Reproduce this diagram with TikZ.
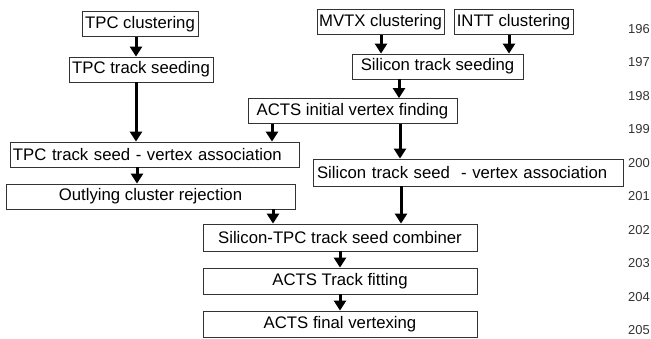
\documentclass[tikz,border=0pt]{standalone}
\usepackage{fontspec}
\setmainfont{Liberation Sans}
\usetikzlibrary{arrows.meta}
\begin{document}
\begin{tikzpicture}[x=1bp, y=-1bp,
        box/.style={draw=black!80, line width=0.8bp, inner sep=0pt, minimum height=25bp, font=\fontsize{16.8}{19}\selectfont},
        leftbox/.style={box, inner xsep=3bp, align=left},
        flow/.style={-{Triangle[width=12bp,length=10bp]}, line width=3bp},
        lineno/.style={anchor=east, inner sep=0pt, text=black!80, font=\fontsize{13}{15}\selectfont}]
        \useasboundingbox (0,0) rectangle (651,338);
        % Tracking chain
        \node[box, minimum width=116bp] (tpcclus) at (140,24) {TPC clustering};
        \node[box, minimum width=144bp] (tpcseed) at (141,69.5) {TPC track seeding};
        \node[box, minimum width=127bp] (mvtx) at (380.5,22) {MVTX clustering};
        \node[box, minimum width=119bp] (intt) at (513.5,22) {INTT clustering};
        \node[box, minimum width=171bp] (siseed) at (437.5,66.5) {Silicon track seeding};
        \node[box, minimum width=209bp] (actsvtx) at (352.5,111) {ACTS initial vertex finding};
        \node[leftbox, text width=283bp] (tpcassoc) at (154.5,154.5) {TPC track seed - vertex association};
        \node[leftbox, inner xsep=4bp, text width=302bp, minimum height=27bp] (siassoc) at (468,172.5) {Silicon track seed\ \ - vertex association};
        \node[box, minimum width=289bp] (outlying) at (150.5,196.5) {Outlying cluster rejection};
        \node[box, minimum width=274bp, minimum height=27bp] (combiner) at (340,237.5) {Silicon-TPC track seed combiner};
        \node[box, minimum width=274bp, minimum height=26bp] (fitting) at (340,281) {ACTS Track fitting};
        \node[box, minimum width=274bp, minimum height=26bp] (final) at (340,324) {ACTS final vertexing};
        \foreach \a/\b/\x in {
            tpcclus/tpcseed/136,
            tpcseed/tpcassoc/136,
            mvtx/siseed/381,
            intt/siseed/509,
            siseed/actsvtx/399,
            actsvtx/tpcassoc/272,
            actsvtx/siassoc/400,
            tpcassoc/outlying/137,
            siassoc/combiner/401,
            outlying/combiner/273,
            combiner/fitting/340,
            fitting/final/340
        } {
            \draw[flow] (\a.south -| \x,0) -- (\b.north -| \x,0);
        }
        % Line numbers
        \foreach \n [count=\i from 0] in {196,...,205} {
            \node[lineno] (line\n) at (650,{29+33.5*\i}) {\n};
        }
    \end{tikzpicture}
\end{document}
